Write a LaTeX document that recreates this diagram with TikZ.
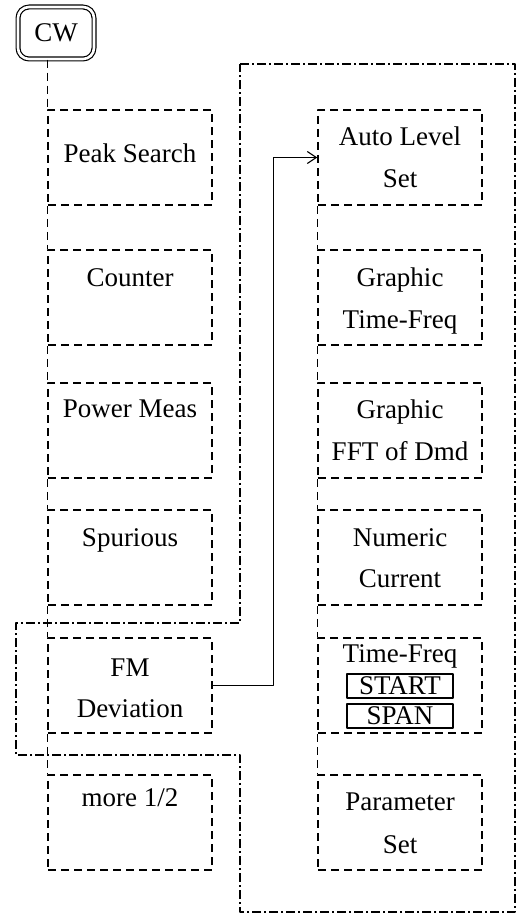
\documentclass[tikz,border=0pt]{standalone}
\usepackage{fontspec}
\setmainfont{Liberation Serif}
\usetikzlibrary{arrows.meta}
\tikzset{
  softkey/.style={draw, dash pattern=on 8pt off 5pt, line width=1.5pt, minimum width=164pt, minimum height=95pt, inner sep=0pt},
  keyline/.style={dash pattern=on 8pt off 5pt, line width=1.5pt},
  keytext/.style={anchor=base, inner sep=0pt},
  subkey/.style={draw, line width=1.3pt, minimum width=106pt, minimum height=24pt, inner sep=0pt},
  menuframe/.style={line width=2.8pt, dash pattern=on 9pt off 3pt on 2pt off 3pt}
}
\begin{document}
\begin{tikzpicture}[x=1pt,y=-1pt,>={Straight Barb[length=9pt,width=12pt]},font=\fontsize{27}{30}\selectfont,line join=round]
	\useasboundingbox (0,0) rectangle (517,915);
	% frame round the FM menu
	\draw[menuframe] (240,64)--(515,64)--(515,912)--(240,912)--(240,755)--(16,755)--(16,623)--(240,623)--cycle;
	\node[draw, double, double distance=2.6pt, line width=1.2pt, rounded corners=11pt, minimum width=76pt, minimum height=52pt, inner sep=0pt] (cw) at (56,33) {CW};
	% CW menu
	\node[softkey] (peak) at (130,157.5) {};
	\node[softkey] (count) at (130,297.5) {};
	\node[softkey] (power) at (130,430.5) {};
	\node[softkey] (spur) at (130,557.5) {};
	\node[softkey] (fm) at (130,685.5) {};
	\node[softkey] (more) at (130,822.5) {};
	\node[keytext] (peak-a) at (130,162) {Peak Search};
	\node[keytext] (count-a) at (130,286) {Counter};
	\node[keytext] (power-a) at (130,417) {Power Meas};
	\node[keytext] (spur-a) at (130,546) {Spurious};
	\node[keytext] (fm-a) at (130,676) {FM};
	\node[keytext] (fm-b) at (130,717) {Deviation};
	\node[keytext] (more-a) at (130,806) {more 1/2};
	\draw[keyline] (cw.south -| peak.west)--(peak.north west) (peak.south west)--(count.north west) (count.south west)--(power.north west) (spur.south west)--(fm.north west) (power.south west)--(spur.north west) (fm.south west)--(more.north west);
	% FM menu
	\node[softkey] (auto) at (400,157.5) {};
	\node[softkey] (gtf) at (400,297.5) {};
	\node[softkey] (gfft) at (400,430.5) {};
	\node[softkey] (numc) at (400,557.5) {};
	\node[softkey] (tfreq) at (400,685.5) {};
	\node[softkey] (param) at (400,822.5) {};
	\node[keytext] (auto-a) at (400,146) {Auto Level};
	\node[keytext] (auto-b) at (400,187) {Set};
	\node[keytext] (gtf-a) at (400,286) {Graphic};
	\node[keytext] (gtf-b) at (400,328) {Time-Freq};
	\node[keytext] (gfft-a) at (400,418) {Graphic};
	\node[keytext] (gfft-b) at (400,460) {FFT of Dmd};
	\node[keytext] (numc-a) at (400,546) {Numeric};
	\node[keytext] (numc-b) at (400,587) {Current};
	\node[keytext] (tfreq-a) at (400,662) {Time-Freq};
	\node[subkey] (start) at (400,686) {START};
	\node[subkey] (span) at (400,716) {SPAN};
	\node[keytext] (param-a) at (400,810) {Parameter};
	\node[keytext] (param-b) at (400,853) {Set};
	\draw[keyline] (auto.south west)--(gtf.north west) (gtf.south west)--(gfft.north west) (gfft.south west)--(numc.north west) (numc.south west)--(tfreq.north west) (tfreq.south west)--(param.north west);
	\draw[->, line width=1.1pt] (fm.east)--++(61,0) |- (auto.west);
\end{tikzpicture}
\end{document}
